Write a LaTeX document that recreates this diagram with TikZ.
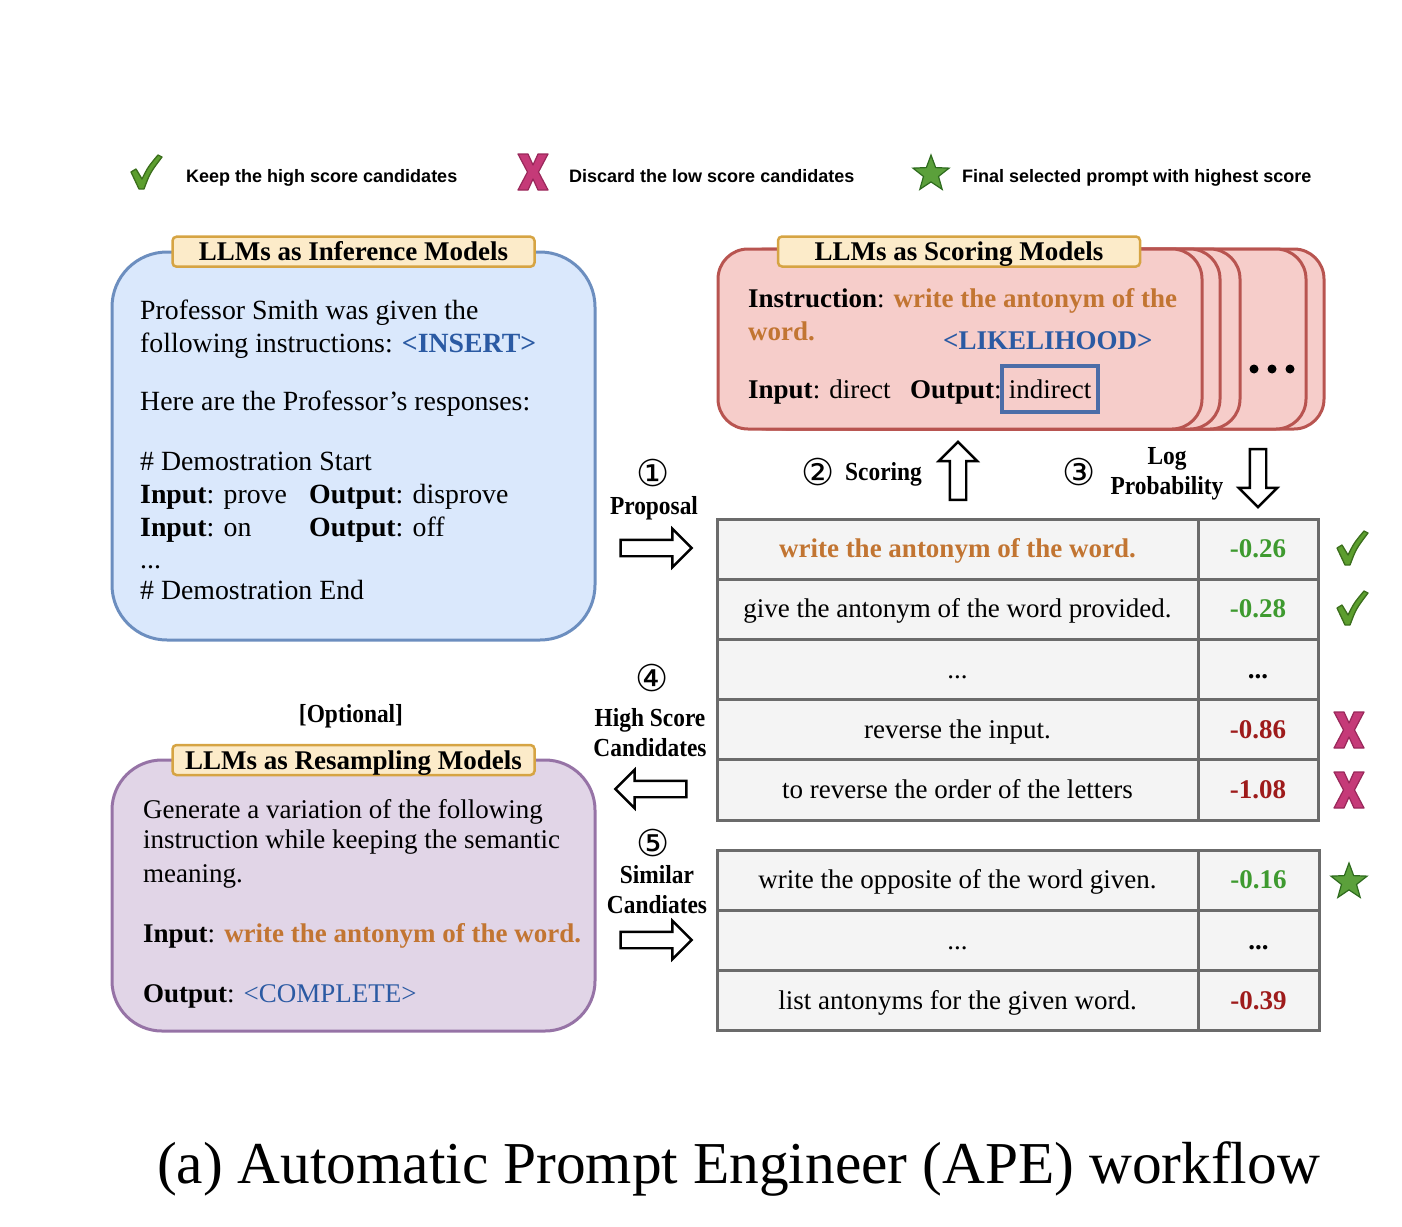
\documentclass[tikz,border=0pt]{standalone}
\usepackage{fontspec}
\setmainfont{Liberation Serif}
\setsansfont{Liberation Sans}
\newfontfamily\symfont{DejaVu Sans}
\newfontfamily\lblfont[FakeStretch=0.9]{Liberation Serif}
\usetikzlibrary{shapes.geometric,shapes.arrows}
\definecolor{infill}{HTML}{DAE8FC}
\definecolor{indraw}{HTML}{6C8EBF}
\definecolor{scfill}{HTML}{F6CDCA}
\definecolor{scdraw}{HTML}{B85450}
\definecolor{rsfill}{HTML}{E1D5E7}
\definecolor{rsdraw}{HTML}{9673A6}
\definecolor{ttfill}{HTML}{FCEBC9}
\definecolor{ttdraw}{HTML}{D6A443}
\definecolor{orangetxt}{HTML}{C27532}
\definecolor{bluetxt}{HTML}{2B5AA3}
\definecolor{greentxt}{HTML}{3E9A2F}
\definecolor{redtxt}{HTML}{9E1B1B}
\definecolor{cellfill}{HTML}{F4F4F4}
\definecolor{cellborder}{HTML}{6B6B6B}
\definecolor{checkgreen}{HTML}{5C9E2E}
\definecolor{checkdark}{HTML}{3B6E1C}
\definecolor{xpink}{HTML}{C53A78}
\definecolor{xdark}{HTML}{99285A}
\definecolor{boxblue}{HTML}{4C6DA8}
\definecolor{stargreen}{HTML}{5BA03B}
\definecolor{stardark}{HTML}{2E6B1E}
\begin{document}
\begin{tikzpicture}[x=1pt,y=-1pt,
  body/.style={font=\fontsize{27}{33}\selectfont, anchor=base west, inner sep=0},
  ibody/.style={font=\fontsize{27.8}{33}\selectfont, anchor=base west, inner sep=0},
  legendtxt/.style={font=\fontsize{18}{22}\selectfont\sffamily\bfseries, anchor=base west, inner sep=0},
  panel/.style={line width=3},
  titlebox/.style={draw=ttdraw, fill=ttfill, line width=2.5, rounded corners=4, inner sep=0,
     minimum width=362, minimum height=30, text height=18, text depth=0,
     font=\fontsize{27}{30}\selectfont\bfseries},
  cell/.style={draw=cellborder, fill=cellfill, line width=3, inner sep=0, minimum height=60.2,
     text height=17, text depth=0, font=\fontsize{27}{30}\selectfont},
  lbl/.style={font=\lblfont\fontsize{26}{30}\selectfont\bfseries, inner sep=0, align=center},
  circnum/.style={font=\symfont\fontsize{37}{40}\selectfont, inner sep=0, text height=26, text depth=0},
  barrow/.style={single arrow, draw=black, fill=white, line width=2.4, inner sep=7,
     single arrow head extend=11, single arrow tip angle=90, minimum height=71},
  starmk/.style={star, star points=5, star point ratio=2.4, minimum size=38, inner sep=0,
     fill=stargreen, draw=stardark, line width=1.2},
  checkmk/.pic={\filldraw[fill=checkgreen, draw=checkdark, line width=1.3, line join=round]
     (-15,-1) -- (-10,-4) -- (-4,6) .. controls (2,-6) .. (12,-18) -- (16,-16) .. controls (4,0) .. (-2,16) -- (-7,16) -- cycle;},
  xmk/.pic={\filldraw[fill=xpink, draw=xdark, line width=1.2, line join=round]
     (-15,-18) -- (-5,-18) -- (0,-7) -- (5,-18) -- (15,-18) -- (5.5,0) -- (15,18) -- (5,18)
     -- (0,7) -- (-5,18) -- (-15,18) -- (-5.5,0) -- cycle;}
]
\useasboundingbox (0,0) rectangle (1402,1226);

% ---------------- legend
\pic at (146,173) {checkmk};
\node[legendtxt] (lg1) at (186,182) {Keep the high score candidates};
\pic at (533,172) {xmk};
\node[legendtxt] (lg2) at (569,182) {Discard the low score candidates};
\node[starmk] (lgs) at (931,174) {};
\node[legendtxt] (lg3) at (962,182) {Final selected prompt with highest score};

% ---------------- inference panel
\node[panel, draw=indraw, fill=infill, rounded corners=55, minimum width=483, minimum height=388] (inf) at (353.5,446) {};
\node[titlebox] (inft) at (353.5,251.7) {LLMs as Inference Models};
\node[ibody] (i1) at (140,319) {Professor Smith was given the};
\node[ibody] (i2) at (140,352) {following instructions: \textcolor{bluetxt}{\bfseries <INSERT>}};
\node[ibody] (i3) at (140,410) {Here are the Professor’s responses:};
\node[ibody] (i4) at (140,470.5) {\# Demostration Start};
\node[ibody] (i5) at (140,503) {\textbf{Input}: prove};
\node[ibody] (i6) at (309,503) {\textbf{Output}: disprove};
\node[ibody] (i7) at (140,536) {\textbf{Input}: on};
\node[ibody] (i8) at (309,536) {\textbf{Output}: off};
\node[ibody] (i9) at (140,568) {...};
\node[ibody] (i10) at (140,599) {\# Demostration End};

% ---------------- scoring panel (stack)
\foreach \dx/\nm in {122/s5,104/s4,38/s3,18/s2} {
  \node[panel, draw=scdraw, fill=scfill, rounded corners=30, minimum width=484, minimum height=180] (\nm) at (960+\dx,339) {};
}
\node[panel, draw=scdraw, fill=scfill, rounded corners=30, minimum width=484, minimum height=180] (sc) at (960,339) {};
\foreach \xx in {1254,1272,1290} { \fill (\xx,369) circle (4.5); }
\node[titlebox] (sct) at (959,251.5) {LLMs as Scoring Models};
\node[body] (s1) at (748,307) {\textbf{Instruction}: \textcolor{orangetxt}{\bfseries write the antonym of the}};
\node[body] (s2l) at (748,340) {\textcolor{orangetxt}{\bfseries word.}};
\node[body] (s3l) at (943,349) {\textcolor{bluetxt}{\bfseries <LIKELIHOOD>}};
\node[body] (s4l) at (748,398) {\textbf{Input}: direct};
\node[body] (s5l) at (910,398) {\textbf{Output}:};
\node[draw=boxblue, line width=4, minimum width=96, minimum height=46, inner sep=0,
      text height=19, text depth=0, font=\fontsize{27}{30}\selectfont] (ind) at (1050,389) {indirect};

% ---------------- step labels and arrows
\node[circnum] (n1) at (653,473) {①};
\node[lbl] (l1) at (654,508) {Proposal};
\node[barrow] (a1) at (652,548) {};
\node[circnum] (n2) at (818,472) {②};
\node[lbl, anchor=west] (l2) at (845,474) {Scoring};
\node[barrow, minimum height=58, rotate=90] (a2) at (958,475) {};
\node[circnum] (n3) at (1079,472) {③};
\node[lbl] (l3) at (1167,474) {Log\\Probability};
\node[barrow, minimum height=58, rotate=-90] (a3) at (1258,474) {};
\node[circnum] (n4) at (652,678) {④};
\node[lbl] (l4) at (650,733) {High Score\\Candidates};
\node[barrow, rotate=180] (a4) at (655,789) {};
\node[circnum] (n5) at (653,843) {⑤};
\node[lbl] (l5) at (657,890) {Similar\\Candiates};
\node[barrow] (a5) at (652,940) {};

% ---------------- table 1
\node[cell, minimum width=481] (t1a) at (957.5,549.2) {\bfseries\color{orangetxt}write the antonym of the word.};
\node[cell, minimum width=120] (t1b) at (1258,549.2) {\bfseries\color{greentxt}-0.26};
\node[cell, minimum width=481] (t2a) at (957.5,609.4) {give the antonym of the word provided.};
\node[cell, minimum width=120] (t2b) at (1258,609.4) {\bfseries\color{greentxt}-0.28};
\node[cell, minimum width=481] (t3a) at (957.5,669.6) {...};
\node[cell, minimum width=120] (t3b) at (1258,669.6) {\bfseries ...};
\node[cell, minimum width=481] (t4a) at (957.5,729.8) {reverse the input.};
\node[cell, minimum width=120] (t4b) at (1258,729.8) {\bfseries\color{redtxt}-0.86};
\node[cell, minimum width=481] (t5a) at (957.5,790) {to reverse the order of the letters};
\node[cell, minimum width=120] (t5b) at (1258,790) {\bfseries\color{redtxt}-1.08};
\pic at (1352,549) {checkmk};
\pic at (1352,609) {checkmk};
\pic at (1349,730) {xmk};
\pic at (1349,790) {xmk};

% ---------------- table 2
\node[cell, minimum width=481] (u1a) at (957.5,880.2) {write the opposite of the word given.};
\node[cell, minimum width=121] (u1b) at (1258.5,880.2) {\bfseries\color{greentxt}-0.16};
\node[cell, minimum width=481] (u2a) at (957.5,940.5) {...};
\node[cell, minimum width=121] (u2b) at (1258.5,940.5) {\bfseries ...};
\node[cell, minimum width=481] (u3a) at (957.5,1000.8) {list antonyms for the given word.};
\node[cell, minimum width=121] (u3b) at (1258.5,1000.8) {\bfseries\color{redtxt}-0.39};
\node[starmk] (fs) at (1349,882) {};

% ---------------- resampling panel
\node[lbl] (opt) at (351,716) {[Optional]};
\node[panel, draw=rsdraw, fill=rsfill, rounded corners=50, minimum width=483, minimum height=271] (rs) at (353.5,895.5) {};
\node[titlebox] (rst) at (353.5,760) {LLMs as Resampling Models};
\node[body] (r1) at (143,818) {Generate a variation of the following};
\node[body] (r2) at (143,848.5) {instruction while keeping the semantic};
\node[body] (r3) at (143,882) {meaning.};
\node[body] (r4) at (143,942) {\textbf{Input}: \textcolor{orangetxt}{\bfseries write the antonym of the word.}};
\node[body] (r5) at (143,1002) {\textbf{Output}: \textcolor{bluetxt}{<COMPLETE>}};

% ---------------- caption
\node[font=\fontsize{59.4}{66}\selectfont, anchor=base, inner sep=0] (cap) at (738.5,1183) {(a) Automatic Prompt Engineer (APE) workflow};
\end{tikzpicture}
\end{document}
